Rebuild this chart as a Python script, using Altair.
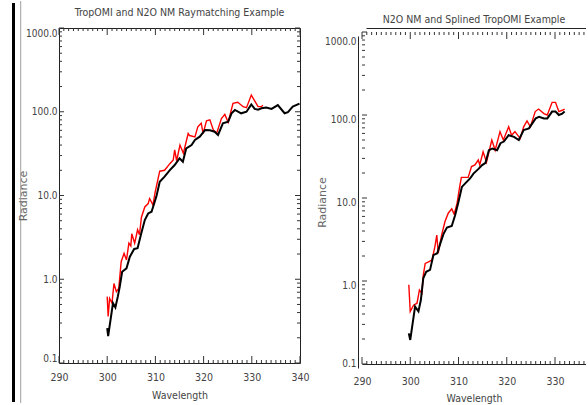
import altair as alt
import pandas as pd

# ---------------- data ----------------
L_BLACK_WAVE = [300.0, 300.2, 301.2, 301.7, 302.2, 302.6, 303.1, 304.0, 304.7, 305.6,
                306.3, 307.1, 307.8, 308.5, 309.2, 310.2, 310.9, 311.9, 313.0, 314.0,
                315.0, 315.7, 316.4, 317.5, 318.2, 319.2, 320.3, 321.3, 322.3, 323.0,
                324.0, 325.1, 325.8, 326.5, 327.8, 328.9, 329.9, 330.6, 331.3, 332.0,
                333.0, 334.1, 335.4, 336.8, 337.5, 338.5, 339.9]
L_BLACK_RAD = [0.26, 0.21, 0.52, 0.46, 0.62, 0.81, 1.23, 1.35, 1.86, 2.30,
               2.35, 3.6, 5.1, 6.1, 6.4, 9.7, 14.6, 16.8, 20.1, 23.1,
               27.8, 25.3, 36.6, 40.0, 46.0, 50.4, 60.5, 60.0, 57.8, 52.8,
               72.8, 76.0, 95.8, 105.0, 95.8, 100.0, 122.0, 108.0, 106.0, 110.0,
               112.0, 108.0, 120.0, 96.0, 99.0, 115.0, 125.0]

L_RED_WAVE = [300.0, 300.2, 300.5, 301.0, 301.4, 301.9, 302.4, 302.9, 303.5, 304.0,
              304.5, 304.9, 305.1, 305.7, 306.3, 306.7, 307.1, 307.8, 308.5, 308.8,
              309.5, 309.9, 310.5, 310.9, 311.9, 313.0, 313.7, 314.0, 314.4, 315.1,
              315.8, 316.8, 317.1, 318.2, 318.8, 319.5, 319.9, 320.6, 321.3, 322.0,
              322.7, 323.7, 324.4, 325.1, 326.1, 327.1, 328.2, 328.9, 329.9, 330.6,
              331.3, 332.0, 332.3]
L_RED_RAD = [0.62, 0.36, 0.59, 0.52, 0.89, 0.71, 0.78, 1.62, 2.04, 1.70,
             2.70, 2.50, 3.50, 2.70, 3.90, 3.40, 5.5, 7.3, 8.0, 9.2,
             7.7, 10.6, 15.4, 19.5, 20.0, 24.0, 26.5, 35.0, 26.0, 40.0,
             32.0, 55.0, 52.0, 50.0, 66.0, 73.0, 55.0, 78.0, 80.0, 61.0,
             55.0, 83.0, 93.0, 75.0, 126.0, 130.0, 115.0, 112.0, 158.0, 135.0,
             115.0, 115.0, 120.0]

R_BLACK_WAVE = [299.7, 300.0, 301.0, 301.7, 302.2, 302.7, 303.3, 304.1, 304.8, 305.6,
                306.2, 306.9, 307.6, 308.6, 309.3, 310.0, 310.7, 311.4, 312.4, 313.1,
                314.2, 314.9, 315.6, 316.3, 317.0, 318.0, 318.7, 319.4, 320.4, 321.5,
                322.5, 323.5, 324.6, 326.0, 326.7, 327.7, 328.4, 329.4, 330.1, 330.8,
                331.5, 332.0]
R_BLACK_RAD = [0.234, 0.195, 0.49, 0.43, 0.59, 1.08, 1.29, 1.36, 2.05, 2.16,
               2.8, 3.7, 4.4, 4.6, 6.2, 9.0, 13.6, 15.0, 17.2, 19.7,
               22.6, 24.9, 26.5, 37.6, 39.5, 37.6, 45.7, 47.9, 57.0, 54.6,
               50.0, 66.0, 69.0, 91.0, 95.0, 91.0, 91.0, 110.0, 110.0, 100.0,
               104.0, 110.0]

R_RED_WAVE = [299.7, 300.0, 300.7, 301.4, 301.9, 302.4, 302.7, 303.1, 303.8, 304.5,
              305.1, 305.5, 305.8, 306.5, 307.2, 307.9, 308.6, 309.1, 309.7, 310.3,
              310.6, 312.0, 312.7, 313.4, 314.1, 314.4, 315.1, 315.8, 316.9, 317.6,
              318.6, 319.3, 320.4, 321.0, 321.7, 322.8, 323.5, 324.2, 324.9, 325.9,
              326.6, 327.7, 328.4, 329.4, 330.1, 330.8, 331.5, 332.0]
R_RED_RAD = [0.90, 0.43, 0.51, 0.54, 0.78, 0.71, 1.18, 1.63, 1.70, 1.79,
             2.58, 3.58, 2.16, 3.58, 5.2, 6.6, 7.4, 6.4, 8.6, 14.3,
             17.7, 17.7, 23.9, 25.0, 28.7, 25.0, 36.0, 27.0, 50.0, 37.6,
             63.0, 50.0, 72.0, 57.0, 63.0, 52.0, 72.0, 85.0, 72.0, 110.0,
             118.0, 104.0, 100.0, 142.0, 142.0, 110.0, 114.0, 118.0]

X_MAJOR = [290, 300, 310, 320, 330, 340]
X_MINOR = [291, 292, 293, 294, 295, 296, 297, 298, 299,
           301, 302, 303, 304, 305, 306, 307, 308, 309,
           311, 312, 313, 314, 315, 316, 317, 318, 319,
           321, 322, 323, 324, 325, 326, 327, 328, 329,
           331, 332, 333, 334, 335, 336, 337, 338, 339]
Y_MAJOR = [0.1, 1.0, 10.0, 100.0, 1000.0]
Y_MINOR = [0.2, 0.3, 0.4, 0.5, 0.6, 0.7, 0.8, 0.9,
           2, 3, 4, 5, 6, 7, 8, 9,
           20, 30, 40, 50, 60, 70, 80, 90,
           200, 300, 400, 500, 600, 700, 800, 900]

LEFT_TITLE = "TropOMI and N2O NM Raymatching Example"
RIGHT_TITLE = "N2O NM and Splined TropOMI Example"
X_TITLE = "Wavelength"
Y_TITLE = "Radiance"

# ---------------- styling ----------------
NARROW = "Liberation Sans Narrow, DejaVu Sans Condensed, Arial Narrow, sans-serif"
PLAIN = "DejaVu Sans, sans-serif"
TXT = "#444444"
FRAME = "#222222"
TICK = "#333333"


def xticks(vals, scale, y0, y1):
    return alt.Chart(pd.DataFrame({"t": vals})).mark_rule(color=TICK, strokeWidth=1).encode(
        x=alt.X("t:Q", scale=scale, axis=None), y=alt.value(y0), y2=alt.value(y1))


def yticks(vals, scale, x0, x1):
    return alt.Chart(pd.DataFrame({"t": vals})).mark_rule(color=TICK, strokeWidth=1).encode(
        y=alt.Y("t:Q", scale=scale, axis=None), x=alt.value(x0), x2=alt.value(x1))


def make_panel(W, H, pad, xmax, top, bw, bv, rw, rv, title, t_offset, with_right,
               xlab_pad, xtitle_y):
    # W, H: size of the panel group; the plot area itself starts at x=pad, y=top
    xs = alt.Scale(domain=[290, xmax], nice=False, zero=False, range=[pad, W])
    ys = alt.Scale(type="log", domain=[0.1, 1000], nice=False, range=[H, top])

    top_axis = alt.Axis(orient="top", position=top, labels=False, ticks=False, domain=True,
                        domainColor=FRAME, grid=False, title=None)
    if with_right:
        right_axis = alt.Axis(orient="right", labels=False, ticks=False, domain=True,
                              domainColor=FRAME, grid=False, title=None)
    else:
        right_axis = None

    red = alt.Chart(pd.DataFrame({"w": rw, "v": rv})).mark_line(
        color="#ff0000", strokeWidth=1.4).encode(
        x=alt.X("w:Q", scale=xs, axis=top_axis),
        y=alt.Y("v:Q", scale=ys, axis=right_axis))

    bottom_axis = alt.Axis(orient="bottom", values=[t for t in X_MAJOR if t <= xmax], format="d",
                           labelFont=NARROW, labelFontSize=10.5, labelColor=TXT,
                           labelPadding=xlab_pad, labelFlush=False, labelOverlap=False,
                           ticks=False, tickSize=0, domain=True, domainColor=FRAME, grid=False,
                           title=X_TITLE, titleFont=NARROW, titleFontSize=10.5,
                           titleFontWeight="normal", titleColor=TXT, titleY=xtitle_y,
                           titleBaseline="middle")
    left_axis = alt.Axis(orient="left", position=pad, values=Y_MAJOR, format=".1f",
                         labelFont=NARROW, labelFontSize=10, labelColor=TXT,
                         labelPadding=2, labelFlush=True, labelOverlap=False,
                         ticks=False, tickSize=0, domain=True, domainColor=FRAME, grid=False,
                         title=Y_TITLE, titleFont=PLAIN, titleFontSize=11,
                         titleFontWeight="normal", titleColor="#666666",
                         titleX=-36, titleY=(H + top) / 2, titleAngle=270,
                         titleBaseline="middle", titleAlign="center")

    black = alt.Chart(pd.DataFrame({"w": bw, "v": bv})).mark_line(
        color="#000000", strokeWidth=2).encode(
        x=alt.X("w:Q", scale=xs, axis=bottom_axis),
        y=alt.Y("v:Q", scale=ys, axis=left_axis))

    xmaj = [t for t in X_MAJOR if t <= xmax]
    xmin = [t for t in X_MINOR if t <= xmax]
    layers = [red, black,
              xticks(xmaj, xs, H, H - 7), xticks(xmin, xs, H, H - 3),
              xticks(xmaj, xs, top, top + 7), xticks(xmin, xs, top, top + 3),
              yticks(Y_MAJOR, ys, pad, pad + 5), yticks(Y_MINOR, ys, pad, pad + 3)]
    if with_right:
        layers += [yticks(Y_MAJOR, ys, W, W - 5), yticks(Y_MINOR, ys, W, W - 3)]

    return alt.layer(*layers).resolve_axis(x="independent", y="independent").properties(
        width=W, height=H,
        title=alt.TitleParams(title, font=NARROW, fontSize=10.5, fontWeight="normal",
                              color="#444444", anchor="middle", frame="group",
                              offset=t_offset, dx=pad / 2))


left = make_panel(241, 335, 0, 340, 0, L_BLACK_WAVE, L_BLACK_RAD, L_RED_WAVE, L_RED_RAD,
                  LEFT_TITLE, 9, True, 9, 32)
right = make_panel(228, 336, 4, 290 + 224 / 4.825, 4, R_BLACK_WAVE, R_BLACK_RAD,
                   R_RED_WAVE, R_RED_RAD, RIGHT_TITLE, 3, False, 12, 34)

# decorative page-edge lines at the far left; this cell's origin is the page's left edge
deco_df = pd.DataFrame({"k": [0]})
inv = alt.Chart(deco_df).mark_rule(strokeOpacity=0).encode(
    x=alt.value(0), y=alt.value(-28), y2=alt.value(377))
thick = alt.Chart(deco_df).mark_rule(color="#000000", strokeWidth=3).encode(
    x=alt.value(13.5), y=alt.value(-25), y2=alt.value(374))
thin = alt.Chart(deco_df).mark_rule(color="#a0a0a0", strokeWidth=1).encode(
    x=alt.value(20.7), y=alt.value(-27), y2=alt.value(375))
deco = alt.layer(inv, thick, thin).properties(width=1, height=335)

chart = alt.HConcatChart(
    hconcat=[deco, left, right], spacing=58, bounds="flush",
    padding={"left": 0, "top": 0, "right": 0, "bottom": 0},
    autosize=alt.AutoSizeParams(type="pad"),
).configure_view(stroke=None)

chart.save("out.html", embed_options={"renderer": "svg", "actions": False})
